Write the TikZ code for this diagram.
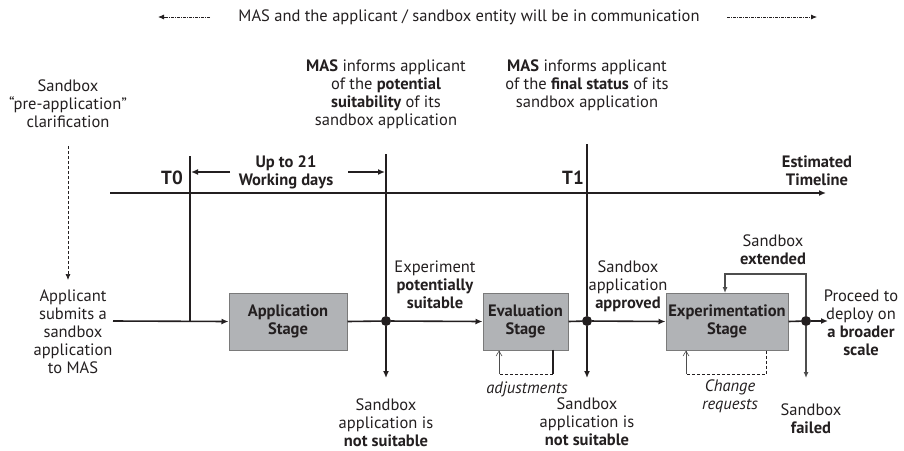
\documentclass[tikz,border=0pt]{standalone}
\usepackage{fontspec}
\setmainfont{PT Sans}
\usetikzlibrary{arrows.meta}
\definecolor{ink}{HTML}{231F20}
\definecolor{boxfill}{HTML}{B1B3B6}
\definecolor{boxline}{HTML}{7A7A7A}
\definecolor{loopgray}{HTML}{4D4D4D}
\tikzset{
  lbl/.style={font=\fontsize{16.5}{18}\selectfont, align=center, inner sep=0pt, text=ink},
  blbl/.style={lbl, font=\fontsize{16.5}{18}\selectfont\bfseries},
  tlbl/.style={lbl, font=\fontsize{19}{20}\selectfont\bfseries},
  ilbl/.style={lbl, font=\fontsize{16.5}{18}\selectfont\itshape},
  stagebox/.style={draw=boxline, fill=boxfill, line width=1pt, inner sep=0pt,
    font=\fontsize{16.5}{18}\selectfont\bfseries, text=ink, align=center},
  mainln/.style={draw=ink, line width=1.6pt},
  tip/.style={-{Latex[length=7pt,width=6pt]}},
  grayln/.style={draw=loopgray, line width=1.2pt},
  dotnode/.style={circle, fill=ink, inner sep=0pt, minimum size=10pt},
  commarrow/.style={draw=ink, line width=0.8pt, dash pattern=on 3pt off 1pt on 1pt off 1pt, -{Latex[length=6pt,width=5pt]}},
  dashedln/.style={draw=ink, line width=0.7pt, dash pattern=on 3pt off 2pt},
  thinarrow/.style={draw=loopgray, line width=0.6pt, -{Straight Barb[length=5pt,width=6pt]}}
}
\begin{document}
\begin{tikzpicture}[x=1pt,y=-1pt]
\useasboundingbox (0,0) rectangle (904,450);

% communication banner
\node[lbl] (comm) at (469,17) {MAS and the applicant / sandbox entity will be in communication};
\coordinate (commLs) at (210,17);
\coordinate (commLe) at (158,17);
\coordinate (commRs) at (727,17);
\coordinate (commRe) at (817,17);
\draw[commarrow] (commLs) -- (commLe);
\draw[commarrow] (commRs) -- (commRe);

% top texts
\node[lbl] (pre) at (68,104) {Sandbox\\“pre-application”\\clarification};
\node[lbl] (inf1) at (386,94) {\textbf{MAS} informs applicant\\of the \textbf{potential}\\\textbf{suitability} of its\\sandbox application};
\node[lbl] (inf2) at (587,85) {\textbf{MAS} informs applicant\\of the \textbf{final status} of its\\sandbox application};

% pre-application dashed arrow
\coordinate (preTop) at (68,146);
\coordinate (preBot) at (68,280);
\draw[dashedln, -{Latex[length=6pt,width=5pt]}] (preTop) -- (preBot);

% applicant text
\node[lbl] (appl) at (73,332) {Applicant\\submits a\\sandbox\\application\\to MAS};

% timeline
\coordinate (tlS) at (110,193);
\coordinate (tlE) at (826,193);
\draw[mainln, tip] (tlS) -- (tlE);
\node[blbl] (est) at (817,171) {Estimated\\Timeline};

% T0
\coordinate (t0top) at (190,156);
\coordinate (t0bot) at (190,321);
\draw[mainln] (t0top) -- (t0bot);
\node[tlbl] (T0) at (172,178) {T0};

% stage boxes
\node[stagebox, minimum width=118pt, minimum height=57pt] (app) at (288,321.5) {Application\\Stage};
\node[stagebox, minimum width=85pt, minimum height=57pt] (eval) at (525.5,321.5) {Evaluation\\Stage};
\node[stagebox, minimum width=122pt, minimum height=57pt] (exp) at (727,321.5) {Experimentation\\Stage};

% dots
\node[dotnode] (d1) at (386,321) {};
\node[dotnode] (d2) at (587,321) {};
\node[dotnode] (d3) at (806,321) {};

% vertical 1
\coordinate (v1top) at (386,154);
\coordinate (v1bot) at (386,378);
\draw[mainln] (v1top) -- (d1);
\draw[mainln, tip] (d1) -- (v1bot);

% T1
\coordinate (v2top) at (587,144);
\coordinate (v2bot) at (587,378);
\draw[mainln] (v2top) -- (d2);
\draw[mainln, tip] (d2) -- (v2bot);
\node[tlbl] (T1) at (573,178) {T1};

% working days
\node[blbl] (wd) at (286,172) {Up to 21\\Working days};
\coordinate (wdL) at (191,172);
\coordinate (wdR) at (385,172);
\coordinate (wdLs) at (230,172);
\coordinate (wdRs) at (348,172);
\draw[mainln, tip] (wdLs) -- (wdL);
\draw[mainln, tip] (wdRs) -- (wdR);

% main flow
\coordinate (mainS) at (113,321);
\draw[mainln, tip] (mainS) -- (app.west);
\draw[mainln] (app.east) -- (d1);
\draw[mainln, tip] (d1) -- (eval.west);
\draw[mainln] (eval.east) -- (d2);
\draw[mainln, tip] (d2) -- (exp.west);
\draw[mainln] (exp.east) -- (d3);
\coordinate (procE) at (828,321);
\draw[mainln, tip] (d3) -- (procE);

% flow labels
\node[lbl] (exs) at (435,285) {Experiment\\\textbf{potentially}\\\textbf{suitable}};
\node[lbl] (apr) at (628,286) {Sandbox\\application\\\textbf{approved}};
\node[lbl] (proc) at (861,323) {Proceed to\\deploy on\\\textbf{a broader}\\\textbf{scale}};
\node[lbl] (ns1) at (386,423) {Sandbox\\application is\\\textbf{not suitable}};
\node[lbl] (ns2) at (587,422) {Sandbox\\application is\\\textbf{not suitable}};

% adjustments loop
\coordinate (adjA) at (553,349.5);
\coordinate (adjB) at (553,374);
\coordinate (adjC) at (499,374);
\coordinate (adjD) at (499,350.5);
\draw[mainln] (adjA) -- (adjB);
\draw[dashedln] (adjB) -- (adjC);
\draw[thinarrow] (adjC) -- (adjD);
\node[ilbl] (adj) at (527,389) {adjustments};

% change requests loop
\coordinate (crA) at (766,350.5);
\coordinate (crB) at (766,374);
\coordinate (crC) at (686,374);
\coordinate (crD) at (686,350.5);
\draw[dashedln] (crA) -- (crB) -- (crC);
\draw[thinarrow] (crC) -- (crD);
\node[ilbl] (cr) at (730,396) {Change\\requests};

% extended loop
\coordinate (exA) at (806,274);
\coordinate (exB) at (725,274);
\coordinate (exC) at (725,293);
\draw[grayln, -{Latex[length=6pt,width=5pt]}] (d3) -- (exA) -- (exB) -- (exC);
\node[lbl] (ext) at (773,250) {Sandbox\\\textbf{extended}};

% failed
\coordinate (fl) at (806,378);
\draw[grayln, -{Latex[length=6pt,width=5pt]}] (d3) -- (fl);
\node[lbl] (fail) at (811,419) {Sandbox\\\textbf{failed}};
\end{tikzpicture}
\end{document}
